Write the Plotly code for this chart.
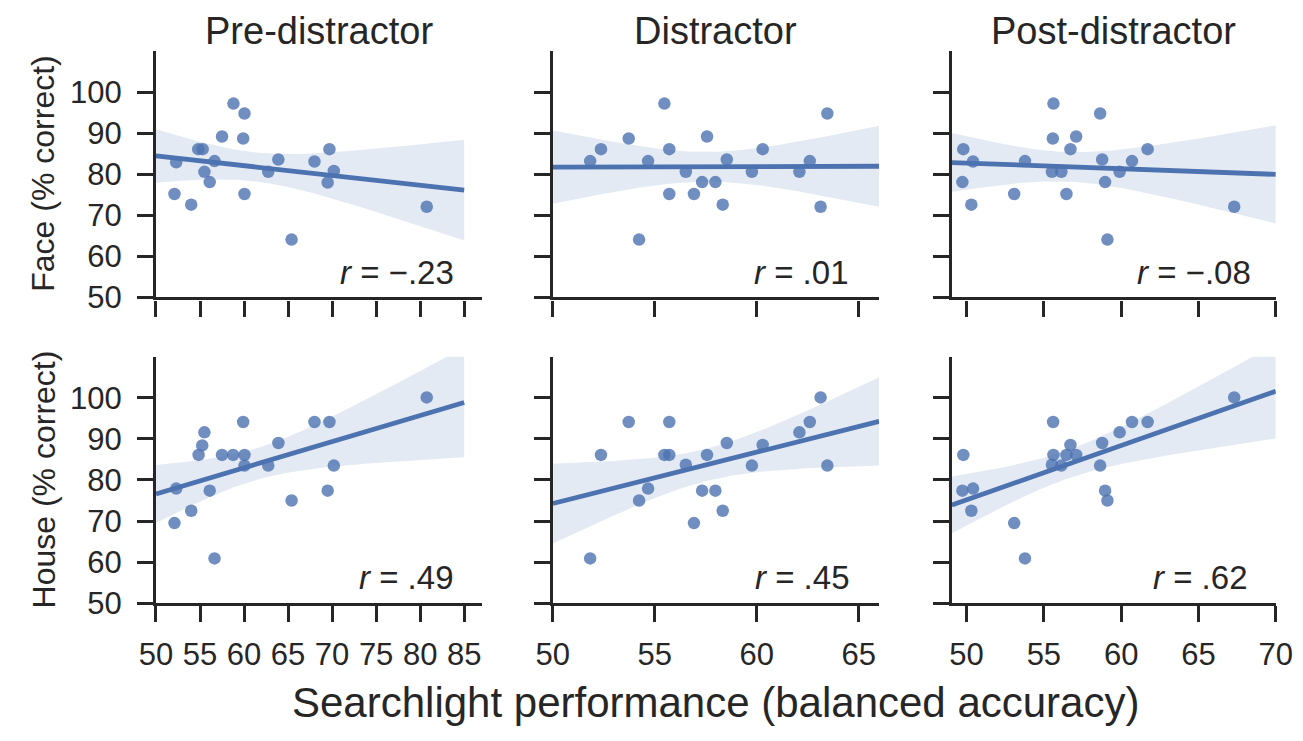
import numpy as np
import plotly.graph_objects as go

# ---------------- data ----------------
col_titles = ["Pre-distractor", "Distractor", "Post-distractor"]
row_titles = ["Face (% correct)", "House (% correct)"]
x_title = "Searchlight performance (balanced accuracy)"

face_pre_x = [58.8, 60.05, 57.5, 59.9, 54.8, 55.3, 52.3, 56.65, 55.5, 56.1, 52.1,
              54.0, 60.05, 62.75, 63.9, 65.4, 68.0, 69.7, 70.2, 69.5, 80.75]
face_pre_y = [97.2, 94.8, 89.2, 88.7, 86.1, 86.1, 82.9, 83.2, 80.6, 78.1, 75.2,
              72.6, 75.2, 80.6, 83.6, 64.1, 83.1, 86.1, 80.8, 78.0, 72.1]

face_dist_x = [55.47, 63.46, 53.72, 57.56, 52.36, 55.71, 60.29, 51.83, 54.67, 58.53, 62.6,
               56.52, 59.76, 62.09, 57.32, 57.97, 55.71, 56.92, 58.33, 63.13, 54.23]
face_dist_y = [97.2, 94.8, 88.7, 89.2, 86.1, 86.1, 86.1, 83.2, 83.2, 83.6, 83.2,
               80.6, 80.6, 80.6, 78.1, 78.1, 75.2, 75.2, 72.6, 72.1, 64.1]

face_post_x = [55.62, 58.64, 55.58, 57.09, 49.79, 56.72, 61.71, 50.42, 53.78, 58.77, 60.7,
               55.52, 56.13, 59.9, 49.73, 58.96, 53.08, 56.46, 50.31, 67.31, 59.11]
face_post_y = [97.2, 94.8, 88.7, 89.2, 86.1, 86.1, 86.1, 83.1, 83.2, 83.6, 83.2,
               80.6, 80.6, 80.6, 78.1, 78.1, 75.2, 75.2, 72.6, 72.1, 64.1]

house_pre_x = [80.75, 59.9, 68.0, 69.7, 55.5, 55.25, 54.84, 57.5, 58.76, 60.05, 60.05,
               63.9, 62.75, 70.2, 52.3, 56.1, 69.5, 65.4, 54.0, 52.1, 56.65]
house_pre_y = [100.1, 94.1, 94.1, 94.1, 91.6, 88.4, 86.1, 86.1, 86.1, 86.1, 83.5,
               89.0, 83.5, 83.5, 77.9, 77.4, 77.4, 75.0, 72.5, 69.5, 60.9]

house_dist_x = [63.13, 53.72, 55.71, 62.6, 62.09, 58.53, 60.29, 52.36, 55.47, 55.71, 57.56,
                56.52, 59.76, 63.46, 54.67, 57.32, 57.97, 54.23, 58.33, 56.92, 51.83]
house_dist_y = [100.1, 94.1, 94.1, 94.1, 91.6, 89.0, 88.5, 86.1, 86.1, 86.1, 86.1,
                83.7, 83.5, 83.5, 77.9, 77.4, 77.4, 75.0, 72.5, 69.5, 60.9]

house_post_x = [67.31, 55.6, 60.7, 61.71, 59.9, 58.77, 56.72, 49.79, 55.62, 56.46, 57.09,
                55.52, 56.13, 58.64, 50.42, 49.73, 58.96, 59.11, 50.31, 53.08, 53.78]
house_post_y = [100.1, 94.1, 94.1, 94.1, 91.6, 89.0, 88.5, 86.1, 86.1, 86.1, 86.1,
                83.7, 83.5, 83.5, 77.9, 77.4, 77.4, 75.0, 72.5, 69.5, 60.9]

r_labels = ["−.23", ".01", "−.08", ".49", ".45", ".62"]

x_ticks = [[50, 55, 60, 65, 70, 75, 80, 85], [50, 55, 60, 65], [50, 55, 60, 65, 70]]
y_ticks = [50, 60, 70, 80, 90, 100]

# ---------------- layout parameters ----------------
W, H = 1303, 741
x_ranges = [[50, 87], [50, 66], [49.05, 70]]
fit_ranges = [[50, 85], [50, 66], [49.05, 70]]
x_domains = [[134.5 / W, 469 / W], [542 / W, 877 / W], [951.7 / W, 1284.3 / W]]
y_domains = [[1 - 296.7 / H, 1 - 44.1 / H], [1 - 610 / H, 1 - 357.4 / H]]
y_range = [50, 110]
r_label_x = [0.922, 0.91, 0.93, 0.918, 0.913, 0.917]

BLUE = "#4C72B0"
INK = "#262626"
FONT = "Liberation Sans, Arial, Helvetica, sans-serif"
T_CRIT = 2.093  # t(0.975, df=19)

panels = [
    (face_pre_x, face_pre_y), (face_dist_x, face_dist_y), (face_post_x, face_post_y),
    (house_pre_x, house_pre_y), (house_dist_x, house_dist_y), (house_post_x, house_post_y),
]

fig = go.Figure()
layout = dict(
    width=W, height=H, margin=dict(l=0, r=0, t=0, b=0),
    paper_bgcolor="white", plot_bgcolor="white", showlegend=False,
    font=dict(family=FONT, color=INK),
)
annotations = []

for i, (xs, ys) in enumerate(panels):
    row, col = divmod(i, 3)
    n = i + 1
    xa = "x" if n == 1 else f"x{n}"
    ya = "y" if n == 1 else f"y{n}"
    xarr = np.array(xs, float)
    yarr = np.array(ys, float)

    # regression fit and 95% CI of the fitted mean
    slope, intercept = np.polyfit(xarr, yarr, 1)
    resid = yarr - (slope * xarr + intercept)
    nobs = len(xarr)
    s = np.sqrt(np.sum(resid ** 2) / (nobs - 2))
    xbar = xarr.mean()
    sxx = np.sum((xarr - xbar) ** 2)
    xg = np.linspace(fit_ranges[col][0], fit_ranges[col][1], 100)
    yg = slope * xg + intercept
    se = s * np.sqrt(1.0 / nobs + (xg - xbar) ** 2 / sxx)
    lo = yg - T_CRIT * se
    hi = yg + T_CRIT * se

    fig.add_trace(go.Scatter(
        x=np.concatenate([xg, xg[::-1]]), y=np.concatenate([hi, lo[::-1]]),
        fill="toself", fillcolor="rgba(76,114,176,0.15)", line=dict(width=0),
        mode="lines", hoverinfo="skip", xaxis=xa, yaxis=ya))
    fig.add_trace(go.Scatter(
        x=xarr, y=yarr, mode="markers",
        marker=dict(size=12.5, color=BLUE, opacity=0.8, line=dict(width=0)),
        xaxis=xa, yaxis=ya, cliponaxis=False))
    fig.add_trace(go.Scatter(
        x=xg, y=yg, mode="lines", line=dict(color=BLUE, width=4.8),
        xaxis=xa, yaxis=ya))

    axis_common = dict(
        showline=True, linecolor=INK, linewidth=3.2,
        ticks="outside", ticklen=16, tickwidth=3, tickcolor=INK,
        showgrid=False, zeroline=False, fixedrange=True,
        tickfont=dict(family=FONT, size=31, color=INK),
    )
    layout["xaxis" if n == 1 else f"xaxis{n}"] = dict(
        axis_common, domain=x_domains[col], range=x_ranges[col],
        tickvals=x_ticks[col], ticktext=[str(v) for v in x_ticks[col]],
        showticklabels=(row == 1), anchor=ya, ticklabelstandoff=6)
    layout["yaxis" if n == 1 else f"yaxis{n}"] = dict(
        axis_common, domain=y_domains[row], range=y_range,
        tickvals=y_ticks, ticktext=[str(v) for v in y_ticks],
        showticklabels=(col == 0), anchor=xa, ticklabelstandoff=9)

    annotations.append(dict(
        text=f"<i>r</i> = {r_labels[i]}", xref=f"{xa} domain", yref=f"{ya} domain",
        x=r_label_x[i], y=0.02, xanchor="right", yanchor="bottom", showarrow=False,
        font=dict(family=FONT, size=33, color=INK)))

# column titles
for c, t in enumerate(col_titles):
    annotations.append(dict(
        text=t, xref="paper", yref="paper",
        x=(x_domains[c][0] + x_domains[c][1]) / 2, y=1.0,
        xanchor="center", yanchor="top", showarrow=False,
        font=dict(family=FONT, size=38, color=INK)))

# row (y-axis) titles
for r, t in enumerate(row_titles):
    annotations.append(dict(
        text=t, xref="paper", yref="paper",
        x=19 / W, y=(y_domains[r][0] + y_domains[r][1]) / 2,
        xanchor="center", yanchor="middle", textangle=-90, showarrow=False,
        font=dict(family=FONT, size=32, color=INK)))

# shared x title
annotations.append(dict(
    text=x_title, xref="paper", yref="paper",
    x=(x_domains[0][0] + x_domains[2][1]) / 2, y=3 / H,
    xanchor="center", yanchor="bottom", showarrow=False,
    font=dict(family=FONT, size=42, color=INK)))

layout["annotations"] = annotations
fig.update_layout(**layout)
fig.write_html("out.html")
